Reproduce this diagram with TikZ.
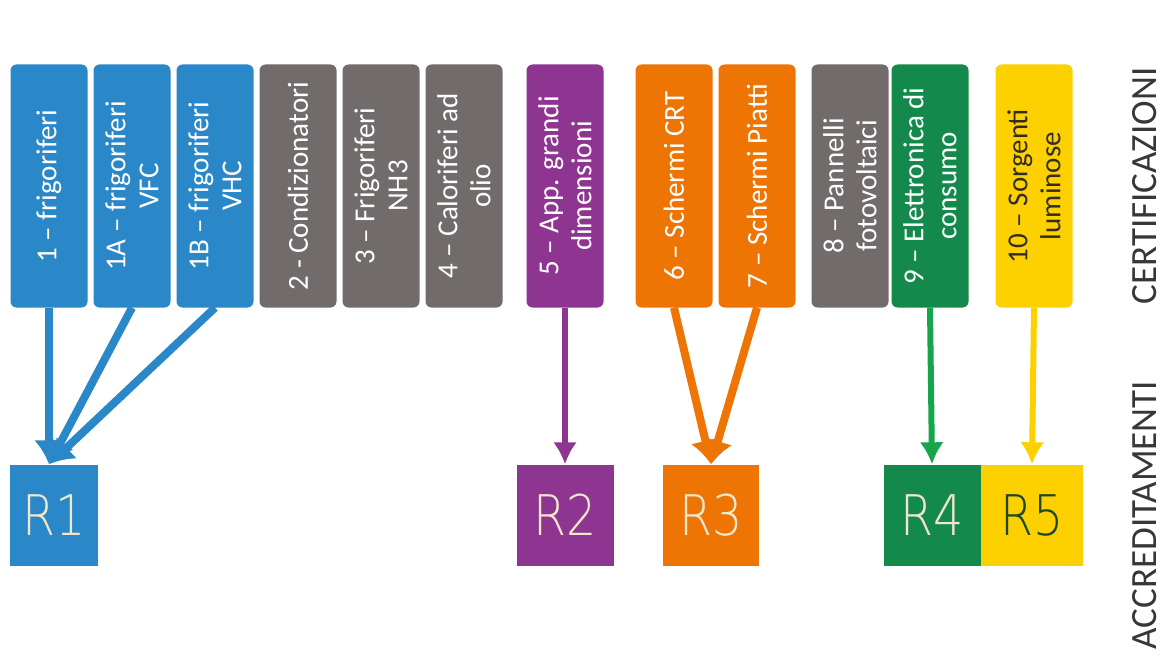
\documentclass[tikz,border=0pt]{standalone}
\usepackage{fontspec}
\setmainfont{Carlito}
\newfontfamily\regfont{DejaVu Sans ExtraLight}[FakeStretch=0.85]
\usetikzlibrary{arrows.meta}

\definecolor{catblue}{RGB}{42,135,200}
\definecolor{catgray}{RGB}{113,108,107}
\definecolor{catpurple}{RGB}{142,52,145}
\definecolor{catorange}{RGB}{238,116,3}
\definecolor{catgreen}{RGB}{19,138,76}
\definecolor{arrgreen}{RGB}{22,165,75}
\definecolor{catyellow}{RGB}{253,208,0}
\definecolor{regtext}{RGB}{240,232,205}
\definecolor{darkgreen}{RGB}{30,72,42}
\definecolor{darktext}{RGB}{50,45,30}
\definecolor{labeltext}{RGB}{55,55,55}

\begin{document}
\begin{tikzpicture}[x=1pt, y=-1pt, node distance=83pt]
    \tikzstyle{every node}=[align=center]
    \tikzset{
        cat/.style={rounded corners=6pt, minimum width=243pt, minimum height=77pt, inner sep=0pt, text=white, font=\fontsize{29}{33}\selectfont, rotate=90},
        reg/.style={minimum width=97pt, minimum height=101pt, inner sep=0pt, text=regtext, font=\regfont\fontsize{56}{56}\selectfont},
        lbl/.style={text=labeltext, font=\fontsize{37}{37}\selectfont, rotate=90},
        arr/.style={line width=6pt, -{Latex[length=22pt, width=24pt]}},
        arr2/.style={line width=8pt, -{Latex[length=24pt, width=30pt]}}
        }

    \fill[white] (0,0) rectangle (1170,666);
    \useasboundingbox (0,0) rectangle (1170,666);

    %categories
    \node (f1) [cat, fill=catblue] at (49,186) {1 – frigoriferi};
    \node (f1a) [right of=f1, cat, fill=catblue] {1A – frigoriferi\\VFC};
    \node (f1b) [right of=f1a, cat, fill=catblue] {1B – frigoriferi\\VHC};
    \node (f2) [right of=f1b, cat, fill=catgray] {2 - Condizionatori};
    \node (f3) [right of=f2, cat, fill=catgray] {3 – Frigoriferi\\NH3};
    \node (f4) [right of=f3, cat, fill=catgray] {4 – Caloriferi ad\\olio};
    \node (f5) [right of=f4, xshift=18pt, cat, fill=catpurple] {5 – App. grandi\\dimensioni};
    \node (f6) [right of=f5, xshift=26pt, cat, fill=catorange] {6 – Schermi CRT};
    \node (f7) [right of=f6, cat, fill=catorange] {7 – Schermi Piatti};
    \node (f8) [right of=f7, xshift=10pt, cat, fill=catgray] {8 – Pannelli\\fotovoltaici};
    \node (f9) [right of=f8, xshift=-3pt, cat, fill=catgreen] {9 – Elettronica di\\consumo};
    \node (f10) [right of=f9, xshift=21pt, cat, fill=catyellow, text=darktext] {10 – Sorgenti\\luminose};

    %groupings
    \node (r1) [reg, below of=f1, node distance=329pt, xshift=5pt, minimum width=88pt, fill=catblue] {R1};
    \node (r2) [reg, below of=f5, node distance=329pt, fill=catpurple] {R2};
    \node (r3) [reg, below of=f6, node distance=329pt, xshift=37pt, minimum width=96pt, fill=catorange] {R3};
    \node (r4) [reg, below of=f9, node distance=329pt, xshift=2pt, fill=catgreen] {R4};
    \node (r5) [reg, right of=r4, xshift=17pt, minimum width=102pt, fill=catyellow, text=darkgreen] {R5};

    %side labels
    \node (cert) [right of=f10, xshift=28pt, lbl] {CERTIFICAZIONI};
    \node (accr) [below of=cert, node distance=329pt, lbl] {ACCREDITAMENTI};

    %arrows
    \coordinate (r1top) at (f1.west |- r1.north);
    \draw[arr2, catblue] (f1.west) -- (r1top);
    \draw[arr2, catblue] (f1a.west) -- (r1top);
    \draw[arr2, catblue] (f1b.west) -- (r1top);
    \draw[arr, catpurple] (f5.west) -- (r2.north);
    \draw[arr2, catorange] (f6.west) -- (r3.north);
    \draw[arr2, catorange] (f7.west) -- (r3.north);
    \draw[arr, arrgreen] (f9.west) -- (r4.north);
    \draw[arr, catyellow] (f10.west) -- (r5.north);
\end{tikzpicture}
\end{document}
